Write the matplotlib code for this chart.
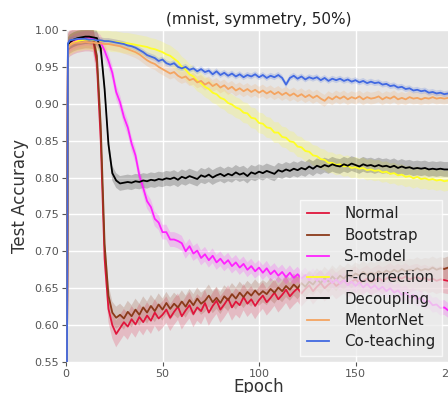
import numpy as np
import matplotlib
matplotlib.use("Agg")
import matplotlib.pyplot as plt

epochs = [0, 1] + list(range(2, 201, 2))

normal = [0.10, 0.978,
    0.982, 0.985, 0.987, 0.988, 0.989, 0.989, 0.988, 0.955, 0.850, 0.690,
    0.622, 0.600, 0.588, 0.596, 0.604, 0.598, 0.608, 0.601, 0.611, 0.604,
    0.613, 0.606, 0.617, 0.609, 0.614, 0.621, 0.610, 0.618, 0.625, 0.612,
    0.620, 0.627, 0.615, 0.624, 0.619, 0.630, 0.617, 0.626, 0.633, 0.621,
    0.628, 0.636, 0.624, 0.632, 0.627, 0.638, 0.629, 0.635, 0.626, 0.634,
    0.640, 0.631, 0.637, 0.644, 0.635, 0.641, 0.648, 0.639, 0.645, 0.650,
    0.643, 0.649, 0.654, 0.646, 0.652, 0.657, 0.650, 0.655, 0.659, 0.653,
    0.657, 0.661, 0.655, 0.659, 0.662, 0.657, 0.660, 0.663, 0.658, 0.661,
    0.664, 0.660, 0.663, 0.666, 0.662, 0.665, 0.663, 0.666, 0.662, 0.664,
    0.665, 0.662, 0.664, 0.661, 0.663, 0.660, 0.662, 0.661, 0.660, 0.661]

bootstrap = [0.10, 0.979,
    0.983, 0.986, 0.988, 0.989, 0.990, 0.990, 0.989, 0.965, 0.870, 0.710,
    0.640, 0.617, 0.610, 0.614, 0.609, 0.618, 0.612, 0.621, 0.614, 0.624,
    0.617, 0.626, 0.619, 0.628, 0.621, 0.630, 0.622, 0.629, 0.624, 0.632,
    0.625, 0.634, 0.627, 0.636, 0.629, 0.633, 0.640, 0.631, 0.637, 0.630,
    0.639, 0.634, 0.642, 0.636, 0.644, 0.638, 0.645, 0.640, 0.647, 0.641,
    0.646, 0.642, 0.649, 0.644, 0.651, 0.646, 0.653, 0.648, 0.655, 0.650,
    0.657, 0.652, 0.659, 0.655, 0.662, 0.657, 0.664, 0.659, 0.666, 0.661,
    0.667, 0.663, 0.669, 0.665, 0.670, 0.667, 0.672, 0.668, 0.671, 0.669,
    0.673, 0.670, 0.674, 0.671, 0.675, 0.672, 0.676, 0.673, 0.675, 0.674,
    0.677, 0.674, 0.676, 0.675, 0.678, 0.675, 0.677, 0.676, 0.678, 0.677]

s_model = [0.10, 0.976,
    0.980, 0.984, 0.986, 0.988, 0.989, 0.989, 0.988, 0.987, 0.983, 0.972,
    0.958, 0.942, 0.916, 0.902, 0.882, 0.868, 0.846, 0.830, 0.803, 0.786,
    0.768, 0.760, 0.744, 0.739, 0.726, 0.726, 0.716, 0.716, 0.714, 0.711,
    0.700, 0.707, 0.697, 0.701, 0.691, 0.696, 0.688, 0.694, 0.685, 0.690,
    0.683, 0.688, 0.680, 0.685, 0.678, 0.683, 0.675, 0.680, 0.673, 0.678,
    0.671, 0.677, 0.669, 0.674, 0.667, 0.672, 0.665, 0.671, 0.664, 0.669,
    0.663, 0.668, 0.661, 0.667, 0.660, 0.665, 0.658, 0.664, 0.657, 0.662,
    0.656, 0.661, 0.654, 0.659, 0.653, 0.658, 0.651, 0.656, 0.650, 0.654,
    0.648, 0.652, 0.646, 0.650, 0.644, 0.647, 0.641, 0.644, 0.638, 0.641,
    0.635, 0.637, 0.631, 0.633, 0.627, 0.628, 0.623, 0.624, 0.620, 0.620]

f_correction = [0.10, 0.976,
    0.980, 0.983, 0.985, 0.986, 0.987, 0.987, 0.986, 0.986, 0.985, 0.985,
    0.985, 0.984, 0.984, 0.983, 0.982, 0.982, 0.981, 0.980, 0.979, 0.978,
    0.977, 0.975, 0.974, 0.972, 0.970, 0.967, 0.965, 0.961, 0.957, 0.950,
    0.946, 0.940, 0.937, 0.931, 0.928, 0.923, 0.920, 0.915, 0.913, 0.908,
    0.906, 0.901, 0.899, 0.895, 0.893, 0.888, 0.887, 0.881, 0.880, 0.874,
    0.873, 0.868, 0.867, 0.861, 0.861, 0.855, 0.854, 0.849, 0.848, 0.842,
    0.841, 0.836, 0.835, 0.830, 0.829, 0.825, 0.824, 0.820, 0.820, 0.817,
    0.818, 0.815, 0.816, 0.813, 0.814, 0.812, 0.813, 0.810, 0.811, 0.809,
    0.810, 0.807, 0.808, 0.805, 0.806, 0.803, 0.804, 0.801, 0.802, 0.799,
    0.801, 0.798, 0.799, 0.797, 0.798, 0.796, 0.797, 0.795, 0.796, 0.795]

decoupling = [0.10, 0.980,
    0.984, 0.987, 0.989, 0.990, 0.991, 0.991, 0.990, 0.989, 0.975, 0.920,
    0.845, 0.806, 0.796, 0.792, 0.793, 0.794, 0.793, 0.795, 0.794, 0.796,
    0.795, 0.797, 0.796, 0.798, 0.797, 0.799, 0.798, 0.800, 0.797, 0.801,
    0.799, 0.802, 0.800, 0.798, 0.803, 0.801, 0.804, 0.800, 0.803, 0.805,
    0.802, 0.805, 0.803, 0.807, 0.804, 0.806, 0.802, 0.807, 0.805, 0.808,
    0.806, 0.809, 0.807, 0.805, 0.810, 0.808, 0.811, 0.809, 0.812, 0.810,
    0.813, 0.811, 0.815, 0.812, 0.816, 0.814, 0.817, 0.815, 0.818, 0.816,
    0.815, 0.818, 0.816, 0.819, 0.817, 0.815, 0.818, 0.816, 0.817, 0.815,
    0.817, 0.815, 0.816, 0.814, 0.816, 0.813, 0.815, 0.813, 0.814, 0.812,
    0.813, 0.812, 0.813, 0.811, 0.812, 0.811, 0.812, 0.811, 0.811, 0.811]

mentornet = [0.10, 0.976,
    0.979, 0.982, 0.983, 0.983, 0.984, 0.983, 0.983, 0.982, 0.982, 0.981,
    0.981, 0.980, 0.979, 0.978, 0.976, 0.974, 0.972, 0.970, 0.967, 0.963,
    0.959, 0.956, 0.954, 0.950, 0.947, 0.944, 0.941, 0.943, 0.938, 0.935,
    0.937, 0.932, 0.934, 0.929, 0.931, 0.926, 0.929, 0.924, 0.927, 0.922,
    0.925, 0.920, 0.923, 0.918, 0.921, 0.917, 0.920, 0.916, 0.919, 0.915,
    0.918, 0.914, 0.917, 0.913, 0.916, 0.912, 0.915, 0.911, 0.914, 0.910,
    0.913, 0.909, 0.912, 0.908, 0.911, 0.907, 0.904, 0.909, 0.906, 0.910,
    0.907, 0.910, 0.906, 0.909, 0.907, 0.910, 0.906, 0.909, 0.907, 0.908,
    0.910, 0.906, 0.909, 0.907, 0.910, 0.906, 0.908, 0.906, 0.909, 0.907,
    0.908, 0.906, 0.908, 0.907, 0.909, 0.907, 0.908, 0.907, 0.908, 0.908]

co_teaching = [0.10, 0.982,
    0.986, 0.987, 0.988, 0.988, 0.988, 0.987, 0.987, 0.986, 0.986, 0.985,
    0.985, 0.984, 0.983, 0.982, 0.981, 0.979, 0.978, 0.976, 0.973, 0.970,
    0.966, 0.964, 0.962, 0.958, 0.960, 0.955, 0.953, 0.955, 0.950, 0.948,
    0.950, 0.946, 0.948, 0.944, 0.947, 0.943, 0.945, 0.940, 0.944, 0.939,
    0.942, 0.938, 0.941, 0.937, 0.940, 0.936, 0.939, 0.937, 0.940, 0.936,
    0.939, 0.935, 0.938, 0.936, 0.939, 0.935, 0.926, 0.935, 0.938, 0.934,
    0.937, 0.933, 0.936, 0.934, 0.936, 0.932, 0.935, 0.931, 0.934, 0.932,
    0.934, 0.931, 0.933, 0.930, 0.932, 0.929, 0.931, 0.928, 0.930, 0.928,
    0.929, 0.926, 0.927, 0.924, 0.925, 0.922, 0.923, 0.920, 0.921, 0.918,
    0.919, 0.917, 0.918, 0.915, 0.916, 0.914, 0.915, 0.913, 0.914, 0.913]

labels = ["Normal", "Bootstrap", "S-model", "F-correction", "Decoupling", "MentorNet", "Co-teaching"]
series = [normal, bootstrap, s_model, f_correction, decoupling, mentornet, co_teaching]
colors = ["#e0163c", "#8b3a1a", "#ff22ff", "#ffff22", "#000000", "#f4a460", "#4169e1"]
band_widths = [0.018, 0.015, 0.010, 0.014, 0.010, 0.008, 0.004]

fig = plt.figure(figsize=(4.48, 3.93), dpi=100)
ax = fig.add_axes([66/448, 31/393, (452-66)/448, 332/393])
ax.set_facecolor("#e5e5e5")
ax.grid(True, color="white", linewidth=1.0)
ax.set_axisbelow(True)
for s in ax.spines.values():
    s.set_visible(False)

x = np.array(epochs)
for vals, c, w, lab in zip(series, colors, band_widths, labels):
    v = np.array(vals)
    ax.fill_between(x, v - w, v + w, color=c, alpha=0.2, linewidth=0)
    ax.plot(x, v, color=c, linewidth=1.3, label=lab)

ax.set_xlim(0, 200)
ax.set_ylim(0.55, 1.0)
ax.set_xticks([0, 50, 100, 150, 200])
ax.set_yticks([0.55, 0.60, 0.65, 0.70, 0.75, 0.80, 0.85, 0.90, 0.95, 1.00])
ax.tick_params(colors="#555555", labelsize=8, length=3, width=0.8, pad=2)
ax.set_xlabel("Epoch", fontsize=12, color="#333333", labelpad=-1)
ax.set_ylabel("Test Accuracy", fontsize=12, color="#333333", labelpad=4)
ax.set_title("(mnist, symmetry, 50%)", fontsize=11, color="#222222", pad=4)

leg = ax.legend(loc="lower left", bbox_to_anchor=(300/448, 37/393),
                bbox_transform=fig.transFigure, fontsize=10.8,
                frameon=True, fancybox=False, framealpha=0.75,
                facecolor="#ececec", edgecolor="white",
                handlelength=1.5, handletextpad=1.0, labelspacing=0.42,
                borderpad=0.45, borderaxespad=0)
for t in leg.get_texts():
    t.set_color("#222222")

fig.savefig("out.png", dpi=100)
